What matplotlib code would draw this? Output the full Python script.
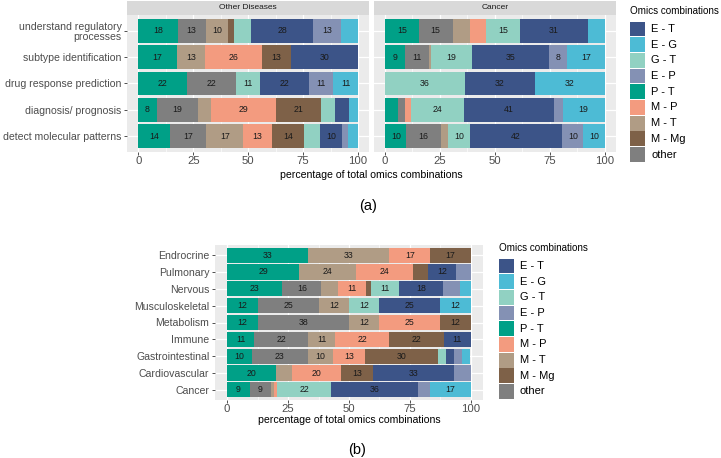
import matplotlib
matplotlib.use("Agg")
import matplotlib.pyplot as plt
from matplotlib.patches import Rectangle
import numpy as np

plt.rcParams['font.family'] = ['Liberation Sans', 'DejaVu Sans']

# stacking order (left to right)
combos = ["P - T", "other", "M - T", "M - P", "M - Mg", "G - T", "E - T", "E - P", "E - G"]
colors = ["#00A087", "#7F7F7F", "#B09C85", "#F39B7F", "#7E6148", "#91D1C2", "#3C5488", "#8491B4", "#4DBBD5"]
legend_order = ["E - T", "E - G", "G - T", "E - P", "P - T", "M - P", "M - T", "M - Mg", "other"]

purposes = ["understand regulatory\nprocesses", "subtype identification", "drug response prediction",
            "diagnosis/ prognosis", "detect molecular patterns"]
other_diseases = [
    [17.9, 12.8, 10.3, 0, 2.6, 7.7, 28.2, 12.8, 7.7],
    [17.4, 0, 13.0, 26.1, 13.0, 0, 30.4, 0, 0],
    [22.2, 22.2, 0, 0, 0, 11.1, 22.2, 11.1, 11.1],
    [8.3, 18.8, 6.2, 29.2, 20.8, 6.2, 6.2, 0, 4.2],
    [14.3, 16.7, 16.7, 13.3, 14.3, 7.6, 10.0, 2.4, 4.7],
]
cancer = [
    [15.4, 15.4, 7.7, 7.7, 0, 15.4, 30.8, 0, 7.7],
    [9.2, 10.9, 0.8, 0, 0, 18.7, 35.1, 8.4, 16.9],
    [0, 0, 0, 0, 0, 36.4, 31.8, 0, 31.8],
    [6, 3, 0, 3, 0, 24, 41, 4, 19],
    [9.8, 15.7, 3.3, 0, 0, 9.8, 42.2, 9.6, 9.6],
]

diseases = ["Endrocrine", "Pulmonary", "Nervous", "Musculoskeletal", "Metabolism", "Immune",
            "Gastrointestinal", "Cardiovascular", "Cancer"]
by_disease = [
    [33.3, 0, 33.3, 16.7, 16.7, 0, 0, 0, 0],
    [29.4, 0, 23.5, 23.5, 5.9, 0, 11.8, 5.9, 0],
    [22.7, 15.9, 6.8, 11.4, 2.3, 11.4, 18.2, 6.8, 4.5],
    [12.5, 25, 12.5, 0, 0, 12.5, 25, 0, 12.5],
    [12.5, 37.5, 12.5, 25, 12.5, 0, 0, 0, 0],
    [11.1, 22.2, 11.1, 22.2, 22.2, 0, 11.1, 0, 0],
    [10, 23.3, 10, 13.3, 30, 3.3, 3.3, 3.3, 3.3],
    [20, 0, 6.7, 20, 13.3, 0, 33.3, 6.7, 0],
    [9.3, 8.7, 1.2, 1.4, 0, 21.9, 35.7, 5.2, 16.6],
]

W, H = 721, 458


def box(x0, y0, x1, y1):
    return [x0 / W, 1 - y1 / H, (x1 - x0) / W, (y1 - y0) / H]


def ftext(x, y, s, **kw):
    fig.text(x / W, 1 - y / H, s, **kw)


def draw_bars(ax, rows, labels, show_y=True):
    ax.set_facecolor("#EBEBEB")
    n = len(rows)
    y = np.arange(n)
    data = np.array(rows, dtype=float)
    left = np.zeros(n)
    for j, c in enumerate(combos):
        ax.barh(y, data[:, j], left=left, height=0.9, color=colors[j], linewidth=0, zorder=2)
        for i in range(n):
            v = data[i, j]
            if v >= 8:
                ax.text(left[i] + v / 2, y[i], f"{v:.0f}", ha="center", va="center",
                        fontsize=6.3, color="#1A1A1A", zorder=3)
        left += data[:, j]
    ax.set_xlim(-5, 105)
    ax.set_ylim(n - 0.4, -0.6)
    ax.set_xticks([0, 25, 50, 75, 100])
    ax.set_xticks([12.5, 37.5, 62.5, 87.5], minor=True)
    ax.set_yticks(y)
    ax.set_yticklabels(labels if show_y else [], linespacing=1.05)
    ax.grid(True, which="major", color="white", lw=0.9, zorder=0)
    ax.grid(True, which="minor", axis="x", color="white", lw=0.45, zorder=0)
    ax.set_axisbelow(True)
    for s in ax.spines.values():
        s.set_visible(False)
    ax.tick_params(which="major", length=2.5, width=0.6, color="#333333",
                   labelcolor="#4D4D4D", labelsize=7.6, pad=1.5)
    ax.tick_params(axis="x", labelsize=8.2, pad=0.5)
    ax.tick_params(which="minor", length=0)
    if not show_y:
        ax.tick_params(axis="y", length=0)


def legend(x, y):
    ftext(x, y, "Omics combinations", fontsize=7.1, ha="left", va="center")
    for k, name in enumerate(legend_order):
        c = colors[combos.index(name)]
        top = y + 10.5 + k * 15.7
        fig.patches.append(Rectangle((x / W, 1 - (top + 14.8) / H), 15 / W, 14.8 / H,
                                     transform=fig.transFigure, color=c, lw=0))
        ftext(x + 21, top + 7.4, name, fontsize=8, ha="left", va="center")


fig = plt.figure(figsize=(W / 100, H / 100), dpi=100)

# panel (a)
ax1 = fig.add_axes(box(127.3, 15, 369, 152))
draw_bars(ax1, other_diseases, purposes)
ax2 = fig.add_axes(box(374, 15, 615.5, 152))
draw_bars(ax2, cancer, purposes, show_y=False)
for (x0, x1), title in [((127.3, 369), "Other Diseases"), ((374, 615.5), "Cancer")]:
    sa = fig.add_axes(box(x0, 0.5, x1, 15))
    sa.set_facecolor("#D9D9D9")
    sa.set_xticks([])
    sa.set_yticks([])
    for s in sa.spines.values():
        s.set_visible(False)
    sa.text(0.5, 0.5, title, ha="center", va="center", fontsize=6, color="#1A1A1A",
            transform=sa.transAxes)
ftext(371, 174.5, "percentage of total omics combinations", fontsize=7.6, ha="center", va="center")
legend(630, 11)
ftext(368, 206, "(a)", fontsize=10.5, ha="center", va="center")

# panel (b)
ax3 = fig.add_axes(box(215, 245, 483, 400))
draw_bars(ax3, by_disease, diseases)
ftext(349, 420, "percentage of total omics combinations", fontsize=7.6, ha="center", va="center")
legend(499, 248)
ftext(357, 450, "(b)", fontsize=10.5, ha="center", va="center")

fig.savefig("out.png", dpi=100)
